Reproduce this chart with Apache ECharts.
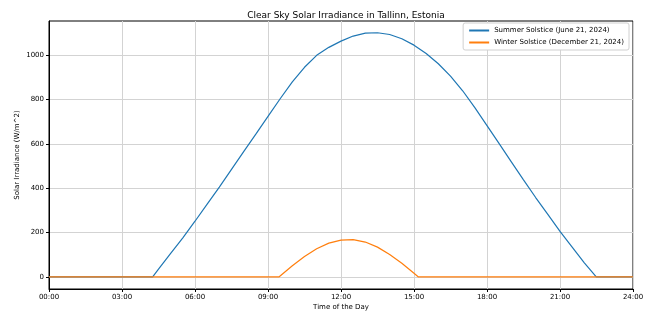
<!DOCTYPE html>
<html>
<head>
<meta charset="utf-8">
<script src="https://cdn.jsdelivr.net/npm/echarts@6/dist/echarts.min.js"></script>
<style>
  html, body { margin: 0; padding: 0; background: #fff; }
  #chart { width: 651px; height: 316px; }
</style>
</head>
<body>
<div id="chart"></div>
<script>
// hours of the day (decimal) and irradiance in W/m^2
var summerHours = [0, 4.26, 4.5, 5, 5.5, 6, 6.5, 7, 7.5, 8, 8.5, 9, 9.5, 10, 10.5, 11, 11.5, 12, 12.5, 13, 13.5,
  14, 14.5, 15, 15.5, 16, 16.5, 17, 17.5, 18, 18.5, 19, 19.5, 20, 20.5, 21, 21.5, 22, 22.49, 24];
var summerValues = [0, 0, 35, 106, 176, 251, 328, 405, 485, 565, 644, 724, 804, 880, 946, 1000, 1036, 1064, 1087, 1100, 1102,
  1094, 1075, 1046, 1008, 962, 906, 840, 764, 683, 601, 519, 438, 358, 282, 205, 134, 63, 0, 0];

var winterHours = [0, 9.46, 10, 10.5, 11, 11.5, 12, 12.5, 13, 13.5, 14, 14.5, 15, 15.17, 24];
var winterValues = [0, 0, 50, 92, 127, 152, 166, 168, 157, 134, 101, 61, 16, 0, 0];

var yTicks = [0, 200, 400, 600, 800, 1000];

function pairs(xs, ys) {
  return xs.map(function (x, i) { return [x, ys[i]]; });
}

var font = "DejaVu Sans";
var myChart = echarts.init(document.getElementById("chart"), null, { renderer: "canvas" });

myChart.setOption({
  animation: false,
  textStyle: { fontFamily: font },
  title: {
    text: "Clear Sky Solar Irradiance in Tallinn, Estonia",
    left: 341,
    textAlign: "center",
    top: 6,
    textStyle: { fontFamily: font, fontSize: 9, fontWeight: "normal", color: "#000" }
  },
  legend: {
    orient: "vertical",
    right: 22,
    top: 23,
    itemWidth: 20,
    itemHeight: 2,
    itemGap: 5,
    icon: "rect",
    padding: [4, 5, 4, 6],
    borderColor: "#d0d0d0",
    borderWidth: 1,
    borderRadius: 2,
    backgroundColor: "#fff",
    textStyle: { fontFamily: font, fontSize: 7, color: "#000" },
    data: ["Summer Solstice (June 21, 2024)", "Winter Solstice (December 21, 2024)"]
  },
  grid: {
    left: 49,
    right: 18,
    top: 21,
    bottom: 24,
    show: true,
    borderColor: "#000",
    borderWidth: 1
  },
  xAxis: {
    type: "value",
    min: 0,
    max: 24,
    interval: 3,
    name: "Time of the Day",
    nameLocation: "middle",
    nameGap: 15,
    nameMoveOverlap: false,
    nameTextStyle: { fontFamily: font, fontSize: 7, color: "#000" },
    axisLine: { onZero: false, lineStyle: { color: "#000", width: 1 } },
    axisTick: { length: 3, lineStyle: { color: "#000" } },
    axisLabel: {
      fontFamily: font, fontSize: 7, color: "#000", margin: 5,
      formatter: function (v) { return (v < 10 ? "0" : "") + v + ":00"; }
    },
    splitLine: { show: true, lineStyle: { color: "#d3d3d3", width: 1 } }
  },
  yAxis: {
    type: "value",
    min: -55,
    max: 1155,
    name: "Solar Irradiance (W/m^2)",
    nameLocation: "middle",
    nameGap: 28,
    nameMoveOverlap: false,
    nameTextStyle: { fontFamily: font, fontSize: 7, color: "#000" },
    axisLine: { show: true, onZero: false, lineStyle: { color: "#000", width: 1 } },
    axisTick: { show: true, length: 3, customValues: yTicks, lineStyle: { color: "#000" } },
    axisLabel: {
      fontFamily: font, fontSize: 7, color: "#000", margin: 5, customValues: yTicks,
      formatter: function (v) { return String(v); }
    },
    splitLine: { show: true, lineStyle: { color: "#d3d3d3", width: 1 } }
  },
  series: [
    {
      name: "Summer Solstice (June 21, 2024)",
      type: "line",
      data: pairs(summerHours, summerValues),
      showSymbol: false,
      color: "#1f77b4",
      lineStyle: { width: 1.2, color: "#1f77b4" }
    },
    {
      name: "Winter Solstice (December 21, 2024)",
      type: "line",
      data: pairs(winterHours, winterValues),
      showSymbol: false,
      color: "#ff7f0e",
      lineStyle: { width: 1.2, color: "#ff7f0e" }
    }
  ]
});
</script>
</body>
</html>
